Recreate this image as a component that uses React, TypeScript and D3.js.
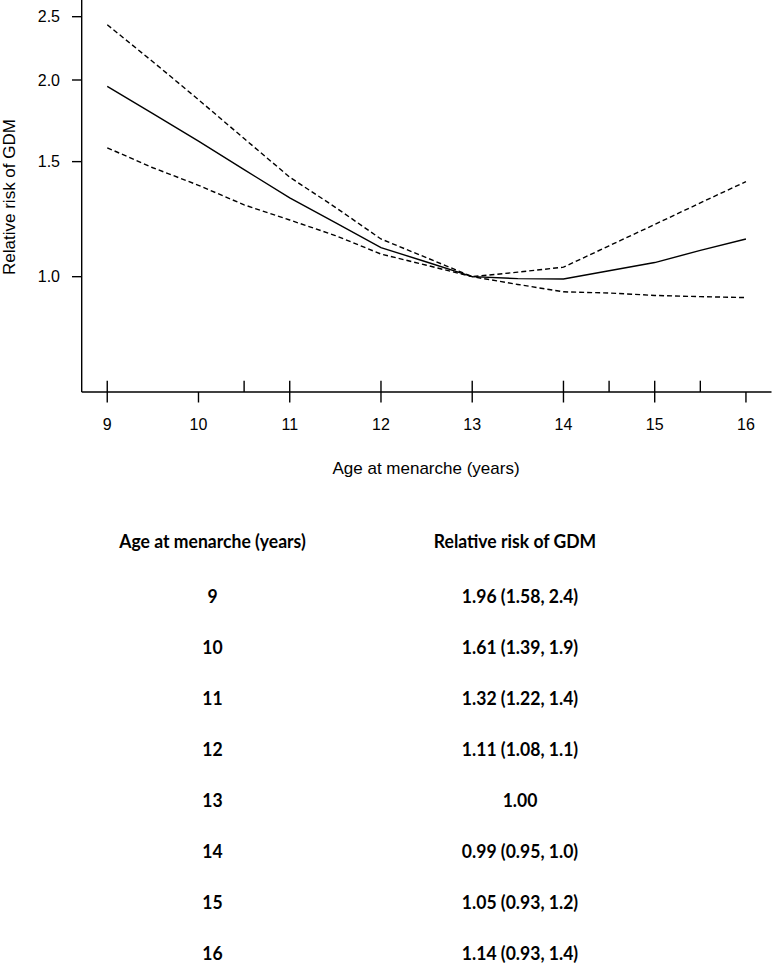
import React from 'react';
import * as d3 from 'd3';

const ages = [9, 9.5, 10, 10.5, 11, 11.5, 12, 12.5, 13, 13.5, 14, 14.5, 15, 15.5, 16];
const rrEstimate = [1.955, 1.777, 1.612, 1.458, 1.32, 1.21, 1.108, 1.053, 1.0, 0.993, 0.992, 1.021, 1.051, 1.097, 1.142];
const rrUpper = [2.43, 2.133, 1.866, 1.627, 1.42, 1.277, 1.142, 1.069, 1.0, 1.016, 1.034, 1.115, 1.202, 1.297, 1.398];
const rrLower = [1.575, 1.468, 1.38, 1.288, 1.221, 1.156, 1.083, 1.041, 1.0, 0.973, 0.948, 0.944, 0.936, 0.932, 0.929];

const xTicks = [9, 10, 11, 12, 13, 14, 15, 16];
const yTicks = [1.0, 1.5, 2.0, 2.5];
const rugAges = [9, 10.5, 11, 12, 13, 14, 14.5, 15, 15.5];

const xTitle = 'Age at menarche (years)';
const yTitle = 'Relative risk of GDM';

const tableHeaders = ['Age at menarche (years)', 'Relative risk of GDM'];
const tableAges = ['9', '10', '11', '12', '13', '14', '15', '16'];
const tableRR = [
  '1.96 (1.58, 2.4)',
  '1.61 (1.39, 1.9)',
  '1.32 (1.22, 1.4)',
  '1.11 (1.08, 1.1)',
  '1.00',
  '0.99 (0.95, 1.0)',
  '1.05 (0.93, 1.2)',
  '1.14 (0.93, 1.4)',
];

const W = 774;
const H = 965;

export default function App() {
  const x = d3.scaleLinear().domain([8.72, 16.28]).range([81.7, 771.5]);
  const y = d3.scaleLog().domain([0.666, 2.63]).range([392, 2.3]);
  const axisY = 392;
  const axisX = 81.7;

  const mk = (vals: number[]) =>
    d3
      .line<number>()
      .x((_, i) => x(ages[i]))
      .y((d) => y(d))(vals) || '';

  const chartFont = "'Liberation Sans', Arial, sans-serif";
  const tableFont = "Lato, 'Noto Sans', sans-serif";
  const sx = 0.95;
  const fs = 18.5;
  const col1 = 212.5;
  const col2 = 520;
  const headerY = 548;
  const row0 = 603;
  const rowStep = 51;

  return (
    <div style={{ position: 'absolute', left: 0, top: 0 }}>
      <svg width={W} height={H} style={{ display: 'block', background: '#fff' }}>
        <rect x={0} y={0} width={W} height={H} fill="#fff" />
        {/* axes */}
        <line x1={axisX} x2={axisX} y1={0} y2={axisY} stroke="#000" strokeWidth={1.4} />
        <line x1={axisX} x2={x(16.28)} y1={axisY} y2={axisY} stroke="#000" strokeWidth={1.4} />
        {yTicks.map((t) => (
          <g key={'yt' + t}>
            <line x1={axisX - 9.7} x2={axisX} y1={y(t)} y2={y(t)} stroke="#000" strokeWidth={1.4} />
            <text
              x={60}
              y={y(t)}
              dy="0.36em"
              textAnchor="end"
              fontFamily={chartFont}
              fontSize={16}
              fill="#000"
            >
              {t.toFixed(1)}
            </text>
          </g>
        ))}
        {xTicks.map((t) => (
          <g key={'xt' + t}>
            <line x1={x(t)} x2={x(t)} y1={axisY} y2={axisY + 10.5} stroke="#000" strokeWidth={1.4} />
            <text
              x={x(t)}
              y={430}
              textAnchor="middle"
              fontFamily={chartFont}
              fontSize={16}
              fill="#000"
            >
              {t}
            </text>
          </g>
        ))}
        {rugAges.map((a) => (
          <line
            key={'rug' + a}
            x1={x(a)}
            x2={x(a)}
            y1={axisY}
            y2={axisY - 11.3}
            stroke="#000"
            strokeWidth={1.4}
          />
        ))}
        {/* curves */}
        <path d={mk(rrUpper)} fill="none" stroke="#000" strokeWidth={1.4} strokeDasharray="5,3" />
        <path d={mk(rrLower)} fill="none" stroke="#000" strokeWidth={1.4} strokeDasharray="5,3" />
        <path d={mk(rrEstimate)} fill="none" stroke="#000" strokeWidth={1.4} />
        {/* titles */}
        <text
          x={426}
          y={474}
          textAnchor="middle"
          fontFamily={chartFont}
          fontSize={17}
          fill="#000"
        >
          {xTitle}
        </text>
        <text
          transform="translate(15,197) rotate(-90)"
          textAnchor="middle"
          fontFamily={chartFont}
          fontSize={17}
          fill="#000"
        >
          {yTitle}
        </text>
        {/* table */}
        <text
          transform={`translate(${col1},${headerY}) scale(${sx},1)`}
          textAnchor="middle"
          fontFamily={tableFont}
          fontWeight="bold"
          fontSize={fs}
          fill="#000"
        >
          {tableHeaders[0]}
        </text>
        <text
          transform={`translate(${col2 - 5},${headerY}) scale(${sx},1)`}
          textAnchor="middle"
          fontFamily={tableFont}
          fontWeight="bold"
          fontSize={fs}
          fill="#000"
        >
          {tableHeaders[1]}
        </text>
        {tableAges.map((a, i) => (
          <g key={'row' + a}>
            <text
              transform={`translate(${col1},${row0 + i * rowStep}) scale(${sx},1)`}
              textAnchor="middle"
              fontFamily={tableFont}
              fontWeight="bold"
              fontSize={fs}
              fill="#000"
            >
              {a}
            </text>
            <text
              transform={`translate(${col2},${row0 + i * rowStep}) scale(${sx},1)`}
              textAnchor="middle"
              fontFamily={tableFont}
              fontWeight="bold"
              fontSize={fs}
              fill="#000"
            >
              {tableRR[i]}
            </text>
          </g>
        ))}
      </svg>
    </div>
  );
}
